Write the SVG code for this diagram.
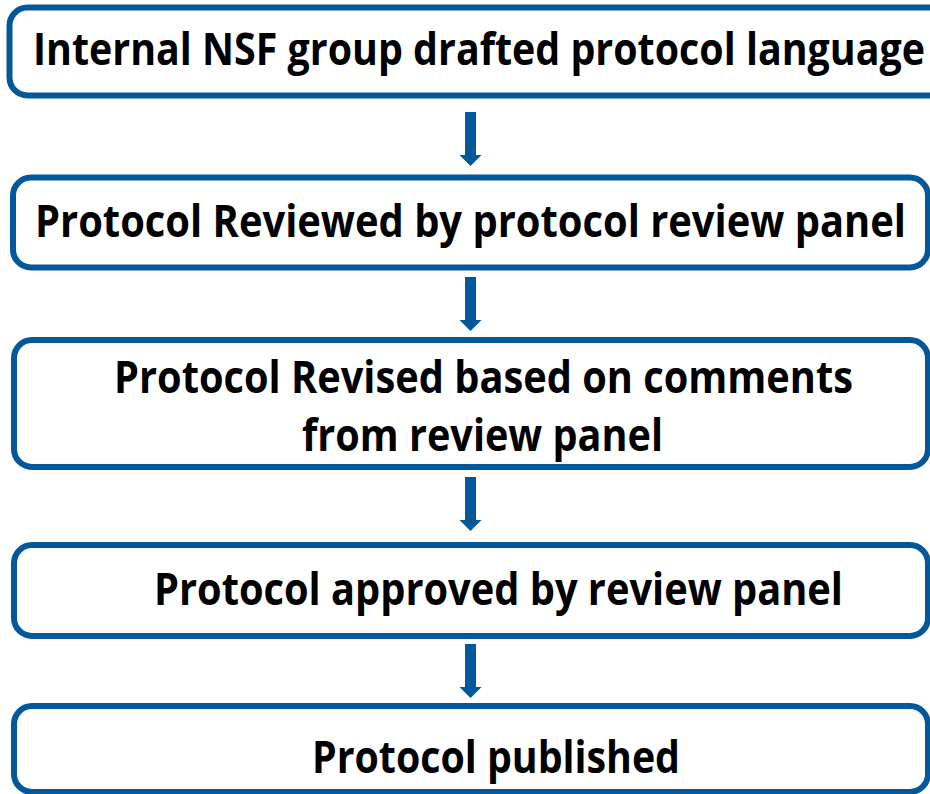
<svg xmlns="http://www.w3.org/2000/svg" width="930" height="794" viewBox="0 0 930 794">
<style>
.box{fill:#fff;stroke:#02589B;stroke-width:6}
.t{font-family:"Open Sans","Liberation Sans",sans-serif;font-weight:bold;font-size:44px;fill:#000}
.arr{fill:#02589B}
</style>
<defs>
<path id="arrow" d="M-5.5,0 H5.5 V43 H11 L0,54 L-11,43 H-5.5 Z"/>
</defs>
<rect width="930" height="794" fill="#fff"/>
<g id="connectors" class="arr">
<use href="#arrow" x="470.5" y="112"/>
<use href="#arrow" x="470.5" y="277"/>
<use href="#arrow" x="470.5" y="477"/>
<use href="#arrow" x="470.5" y="644"/>
</g>
<g id="node1">
<rect class="box" x="9.5" y="7.5" width="940" height="88" rx="18"/>
<text class="t" x="33" y="65" textLength="892" lengthAdjust="spacingAndGlyphs">Internal NSF group drafted protocol language</text>
</g>
<g id="node2">
<rect class="box" x="13" y="177.5" width="915" height="90" rx="18"/>
<text class="t" x="35" y="237" textLength="871" lengthAdjust="spacingAndGlyphs">Protocol Reviewed by protocol review panel</text>
</g>
<g id="node3">
<rect class="box" x="14" y="340" width="914" height="127" rx="18"/>
<text class="t" x="114" y="393" textLength="739" lengthAdjust="spacingAndGlyphs">Protocol Revised based on comments</text>
<text class="t" x="302" y="451" textLength="361" lengthAdjust="spacingAndGlyphs">from review panel</text>
</g>
<g id="node4">
<rect class="box" x="14" y="545" width="914" height="91" rx="18"/>
<text class="t" x="154" y="605" textLength="689" lengthAdjust="spacingAndGlyphs">Protocol approved by review panel</text>
</g>
<g id="node5">
<rect class="box" x="14" y="706" width="914" height="86" rx="18"/>
<text class="t" x="312" y="773" textLength="368" lengthAdjust="spacingAndGlyphs">Protocol published</text>
</g>
</svg>
